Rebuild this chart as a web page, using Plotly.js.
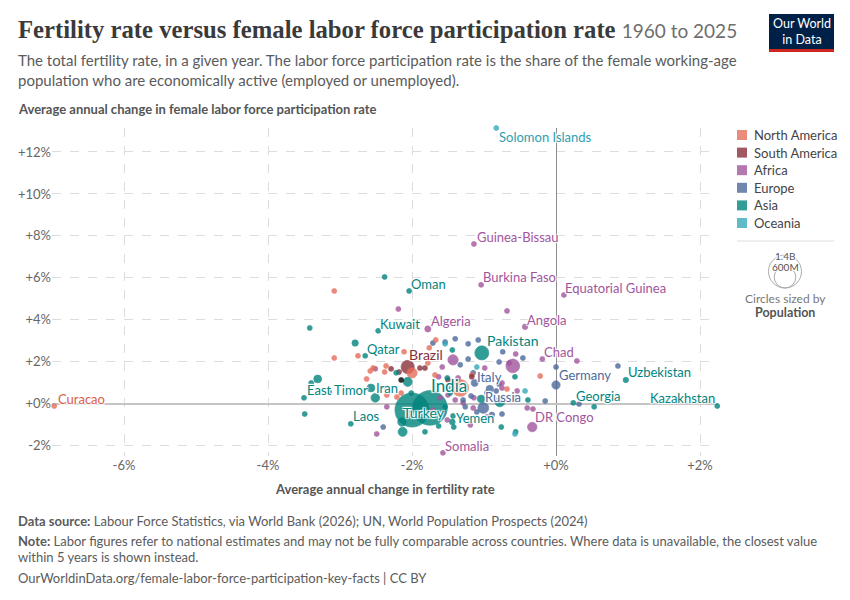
<!DOCTYPE html>
<html>
<head>
<meta charset="utf-8">
<script src="https://cdn.plot.ly/plotly-3.0.1.min.js"></script>
<style>
  body { margin: 0; background: #fff; }
  #chart { width: 850px; height: 600px; }
</style>
</head>
<body>
<div id="chart"></div>
<script>
// Average annual change (%), fertility rate (x) and female labor force participation (y)
// region: NA North America, SA South America, AF Africa, EU Europe, AS Asia, OC Oceania
var region = [
  "NA","NA","NA","NA","NA","NA","NA","NA","NA","NA","NA","NA","NA","NA","NA","NA","NA","NA","NA","NA","NA","NA",
  "SA","SA","SA","SA","SA","SA","SA","SA",
  "AF","AF","AF","AF","AF","AF","AF","AF","AF","AF","AF","AF","AF","AF","AF","AF","AF","AF","AF","AF",
  "AF","AF","AF","AF","AF","AF","AF","AF","AF","AF","AF","AF","AF","AF","AF","AF","AF","AF",
  "EU","EU","EU","EU","EU","EU","EU","EU","EU","EU","EU","EU","EU","EU","EU","EU","EU",
  "EU","EU","EU","EU","EU","EU","EU","EU","EU","EU","EU","EU","EU","EU","EU",
  "AS","AS","AS","AS","AS","AS","AS","AS","AS","AS","AS","AS","AS","AS","AS","AS","AS","AS","AS","AS","AS","AS",
  "AS","AS","AS","AS","AS","AS","AS","AS","AS","AS","AS","AS","AS","AS","AS","AS","AS","AS","AS","AS","AS","AS",
  "OC","OC","OC","OC","OC"
];
var country = [
  "Curacao","","","","","","","","","","","","","","","","","","","","","",
  "Brazil","","","","","","","",
  "Guinea-Bissau","Burkina Faso","Equatorial Guinea","","","Algeria","Angola","","Chad","","","","","","","","","","","",
  "","","DR Congo","Somalia","","","","","","","","","","","","","","",
  "Germany","Italy","Russia","","","","","","","","","","","","","","",
  "","","","","","","","","","","","","","","","",
  "Oman","Kuwait","Qatar","Pakistan","Uzbekistan","India","","Turkey","Yemen","Georgia","Kazakhstan","East Timor","Iran","Laos","","","","","","","","",
  "","","","","","","","","","","","","","","","","","","","","","",
  "Solomon Islands","","","",""
];
var fertChange = [
  -6.97,-3.08,-2.75,-3.08,-2.58,-2.36,-2.38,-2.63,-2.21,-2.00,-2.11,-1.67,-1.78,-1.68,-1.33,-1.17,-0.68,-0.22,-2.15,-2.35,-2.54,-1.76,
  -2.06,-2.29,-1.82,-2.18,-1.17,-1.89,-1.74,-1.50,
  -1.14,-1.04,0.11,-2.19,-0.68,-1.78,-0.43,-0.56,-0.19,0.29,-2.51,-1.43,-0.60,-1.58,-0.75,-0.54,-1.50,-1.40,-1.14,-0.75,
  -0.40,-0.32,-0.33,-1.57,-2.35,-2.49,-1.15,-1.71,-0.96,-1.19,-1.63,-1.36,-0.99,-2.35,-1.61,-1.29,-1.51,-0.65,
  0.00,-1.13,-1.01,-1.22,-1.08,-0.74,-1.33,-1.22,-0.79,0.00,0.86,-0.92,-0.79,-1.15,-1.29,-0.96,-0.83,
  -1.18,-0.15,0.32,-0.75,-1.26,-1.57,-0.89,-1.10,-2.40,-1.71,-1.40,-1.54,-0.46,-0.96,-1.31,-1.04,
  -2.04,-2.47,-2.65,-1.03,0.97,-1.75,-2.00,-2.14,-1.44,0.24,2.24,-3.50,-2.51,-2.85,-2.38,-3.42,-2.79,-3.31,-3.40,-3.15,-2.57,-3.49,
  -2.06,-0.78,-1.46,-1.44,-1.51,-1.47,-1.54,-1.43,-1.24,-1.42,-1.63,-1.82,-2.13,-0.76,-0.56,-0.39,-0.57,0.53,-0.57,-2.22,-2.01,-1.10,
  -0.83,-1.54,-0.43,-0.57,-2.15
];
var lfpChange = [
  -0.10,5.38,2.29,2.19,1.57,1.81,1.52,1.19,0.33,1.48,2.48,3.05,1.95,1.38,0.76,1.38,0.71,1.33,0.52,0.43,1.71,2.67,
  1.76,1.67,1.71,1.52,1.29,1.71,2.24,1.14,
  7.62,5.67,5.19,4.52,4.43,3.57,3.67,2.38,2.14,2.05,1.67,2.10,1.81,1.76,1.00,0.62,0.43,0.19,0.29,0.76,
  -0.19,-0.24,-1.10,-2.33,-0.14,-1.43,-0.19,-0.29,-0.62,-1.00,1.29,1.24,1.71,0.76,0.29,0.05,-0.76,1.95,
  0.90,1.00,-0.19,2.86,3.05,2.48,1.86,2.14,2.00,1.76,1.81,0.71,0.95,1.48,0.19,0.52,0.62,
  0.38,0.14,0.00,-0.48,-0.14,-0.43,-0.52,-0.38,-1.10,2.90,3.10,2.95,2.19,1.14,-0.62,0.24,
  5.38,3.48,2.29,2.43,1.14,-0.19,-0.29,-0.86,-0.86,0.05,-0.10,0.29,0.29,-0.95,6.05,3.62,2.90,1.19,1.00,0.57,0.76,-0.48,
  1.05,0.10,0.76,2.57,1.24,0.52,-0.14,-0.57,-0.67,-1.10,-1.05,-1.33,-1.33,-1.10,-1.33,0.19,1.29,-0.14,0.29,1.48,0.52,1.76,
  13.14,2.86,0.62,-1.43,1.14
];
// population, millions
var population = [
  0.15,0.3,0.5,0.3,0.4,1,1,0.5,1,130,2,1,2,2,340,5,1,1,3,1,0.5,1,
  212,20,3,30,3,18,8,7,
  2,23,2,2,3,47,37,5,19,3,1,130,230,5,5,5,5,5,5,5,
  3,3,110,19,3,2,5,5,5,3,5,5,5,3,3,5,3,3,
  84,59,144,2,2,2,5,3,3,2,3,66,10,10,5,10,10,
  5,3,3,5,5,5,38,10,3,2,2,2,2,10,5,69,
  5,4.5,3,240,36,1450,1410,87,40,3.7,20,1.4,90,7.6,4,2,50,75,2,2,75,3,
  100,120,5,3,5,5,5,5,5,5,5,10,100,5,3,5,3,3,5,3,3,3,
  0.8,1,1,1,1
];

var regionKeys = ["NA","SA","AF","EU","AS","OC"];
var regionNames = ["North America","South America","Africa","Europe","Asia","Oceania"];
var regionColors = ["#E56E5A","#883039","#A2559C","#4C6A9C","#00847E","#38AABA"];
var labelColors = ["#DB5D48","#883039","#A2559C","#4C6A9C","#00847E","#2F9EAE"];

var xTicks = [-6,-4,-2,0,2];
var xTickText = ["-6%","-4%","-2%","+0%","+2%"];
var yTicks = [-2,0,2,4,6,8,10,12];
var yTickText = ["-2%","+0%","+2%","+4%","+6%","+8%","+10%","+12%"];

// label offsets in px: [xshift, yshift, anchor, fontsize]
var labelPos = {
  "Solomon Islands":[1,-9], "Guinea-Bissau":[1,7], "Burkina Faso":[0,8],
  "Equatorial Guinea":[-1,7], "Oman":[0,7], "Kuwait":[0,7], "Algeria":[1,8],
  "Angola":[0,7], "Pakistan":[3,12,"left",14], "Chad":[0,7], "Qatar":[0,7],
  "Brazil":[-1,12,"left",14], "Uzbekistan":[0,8], "Germany":[1,10], "Italy":[0,6],
  "India":[-1,22,"left",17], "Turkey":[-1,9,"left",14], "Russia":[0,11], "Yemen":[2,4],
  "Somalia":[0,7], "DR Congo":[1,10], "Georgia":[1,7], "Kazakhstan":[0,8,"right"],
  "East Timor":[1,8], "Iran":[-1,10], "Laos":[0,8], "Curacao":[2,7]
};

// plot box in px, used for the paper-positioned decorations
var L = 52, R = 718, T = 128, B = 456;
function px(v) { return (v - L) / (R - L); }
function py(v) { return (B - v) / (B - T); }

var halo = "1px 1px 1px #fff, -1px -1px 1px #fff, 1px -1px 1px #fff, -1px 1px 1px #fff, 0 0 2px #fff";

// draw biggest circles first so small ones sit on top
var order = population.map(function(p, i) { return i; });
order.sort(function(a, b) { return population[b] - population[a]; });

var colorOf = function(i) { return regionColors[regionKeys.indexOf(region[i])]; };

var trace = {
  type: "scatter",
  mode: "markers",
  x: order.map(function(i) { return fertChange[i]; }),
  y: order.map(function(i) { return lfpChange[i]; }),
  text: order.map(function(i) { return country[i]; }),
  hoverinfo: "text",
  cliponaxis: false,
  marker: {
    sizemode: "diameter",
    size: order.map(function(i) { return Math.max(5, 34 * Math.sqrt(population[i] / 1400)); }),
    color: order.map(colorOf),
    opacity: 0.8,
    line: { width: 0.7, color: order.map(colorOf) }
  },
  showlegend: false
};

var annotations = [];
var shapes = [];

// point labels
for (var i = 0; i < country.length; i++) {
  var p = labelPos[country[i]];
  if (!p) continue;
  annotations.push({
    x: fertChange[i], y: lfpChange[i], xref: "x", yref: "y",
    text: country[i], showarrow: false,
    xanchor: p[2] || "left", yanchor: "middle",
    xshift: p[0], yshift: p[1],
    font: { family: "Lato", size: p[3] || 13, color: labelColors[regionKeys.indexOf(region[i])], shadow: halo }
  });
}

// header
annotations.push({
  xref: "paper", yref: "paper", x: px(16), y: py(30), xanchor: "left", yanchor: "middle", showarrow: false,
  text: "<b>Fertility rate versus female labor force participation rate</b> <span style=\"font-family:Lato;font-size:19px;color:#6e6e6e\">1960 to 2025</span>",
  font: { family: "Liberation Serif", size: 24.7, color: "#3a3a3a" }
});
annotations.push({
  xref: "paper", yref: "paper", x: px(16), y: py(70), xanchor: "left", yanchor: "middle", showarrow: false, align: "left",
  text: "The total fertility rate, in a given year. The labor force participation rate is the share of the female working-age<br>population who are economically active (employed or unemployed).",
  font: { family: "Lato", size: 15, color: "#5b5b5b" }
});
annotations.push({
  xref: "paper", yref: "paper", x: px(16), y: py(109), xanchor: "left", yanchor: "middle", showarrow: false,
  text: "<b>Average annual change in female labor force participation rate</b>",
  font: { family: "Lato", size: 13, color: "#555" }
});
annotations.push({
  xref: "paper", yref: "paper", x: px(385), y: py(489), xanchor: "center", yanchor: "middle", showarrow: false,
  text: "<b>Average annual change in fertility rate</b>",
  font: { family: "Lato", size: 13, color: "#555" }
});

// footer
var footer = [
  [521, "<b>Data source:</b> Labour Force Statistics, via World Bank (2026); UN, World Population Prospects (2024)"],
  [541, "<b>Note:</b> Labor figures refer to national estimates and may not be fully comparable across countries. Where data is unavailable, the closest value"],
  [557, "within 5 years is shown instead."],
  [578, "OurWorldinData.org/female-labor-force-participation-key-facts | CC BY"]
];
footer.forEach(function(f) {
  annotations.push({
    xref: "paper", yref: "paper", x: px(16), y: py(f[0]), xanchor: "left", yanchor: "middle", showarrow: false,
    text: f[1], font: { family: "Lato", size: 13, color: "#5b5b5b" }
  });
});

// logo
shapes.push({ type: "rect", xref: "paper", yref: "paper", x0: px(769), x1: px(834), y0: py(14), y1: py(49), fillcolor: "#002147", line: { width: 0 } });
shapes.push({ type: "rect", xref: "paper", yref: "paper", x0: px(769), x1: px(834), y0: py(49), y1: py(52), fillcolor: "#CE261E", line: { width: 0 } });
annotations.push({
  xref: "paper", yref: "paper", x: px(801.5), y: py(32), xanchor: "center", yanchor: "middle", showarrow: false,
  text: "Our World<br>in Data", font: { family: "Lato", size: 12.5, color: "#fff" }
});

// color legend
regionNames.forEach(function(name, k) {
  var cy = 135 + k * 17.6;
  shapes.push({ type: "rect", xref: "paper", yref: "paper", x0: px(737), x1: px(747), y0: py(cy - 5), y1: py(cy + 5),
    fillcolor: regionColors[k], opacity: 0.8, line: { width: 0 } });
  annotations.push({
    xref: "paper", yref: "paper", x: px(752), y: py(cy), xanchor: "left", yanchor: "middle", showarrow: false,
    text: name, font: { family: "Lato", size: 13, color: "#444" }
  });
});
shapes.push({ type: "line", xref: "paper", yref: "paper", x0: px(737), x1: px(834), y0: py(241), y1: py(241), line: { color: "#ddd", width: 1 } });

// size legend
[[1400, "1.4B"], [600, "600M"]].forEach(function(s) {
  var r = 16.5 * Math.sqrt(s[0] / 1400);
  shapes.push({ type: "circle", xref: "paper", yref: "paper", x0: px(785 - r), x1: px(785 + r), y0: py(288 - 2 * r), y1: py(288),
    line: { color: "#aaa", width: 1 }, fillcolor: "rgba(0,0,0,0)" });
  annotations.push({
    xref: "paper", yref: "paper", x: px(785), y: py(288 - 2 * r + 1), xanchor: "center", yanchor: "middle", showarrow: false,
    text: s[1], font: { family: "Lato", size: 10, color: "#555", shadow: halo }
  });
});
annotations.push({
  xref: "paper", yref: "paper", x: px(785), y: py(298), xanchor: "center", yanchor: "middle", showarrow: false,
  text: "Circles sized by", font: { family: "Lato", size: 12, color: "#777" }
});
annotations.push({
  xref: "paper", yref: "paper", x: px(785), y: py(312), xanchor: "center", yanchor: "middle", showarrow: false,
  text: "<b>Population</b>", font: { family: "Lato", size: 12.5, color: "#555" }
});

var layout = {
  width: 850, height: 600,
  margin: { l: L, r: 850 - R, t: T, b: 600 - B },
  paper_bgcolor: "#fff", plot_bgcolor: "#fff",
  font: { family: "Lato", color: "#666" },
  xaxis: {
    range: [-7.0, 2.25], tickvals: xTicks, ticktext: xTickText, ticks: "",
    showgrid: true, gridcolor: "#dcdcdc", griddash: "dash", gridwidth: 1,
    zeroline: true, zerolinecolor: "#8c8c8c", zerolinewidth: 1,
    showline: false, tickfont: { family: "Lato", size: 13, color: "#666" }
  },
  yaxis: {
    range: [-2.48, 13.14], tickvals: yTicks, ticktext: yTickText, ticks: "",
    showgrid: true, gridcolor: "#dcdcdc", griddash: "dash", gridwidth: 1,
    zeroline: true, zerolinecolor: "#c4c4c4", zerolinewidth: 2,
    showline: false, tickfont: { family: "Lato", size: 13, color: "#666" }
  },
  shapes: shapes,
  annotations: annotations,
  showlegend: false,
  hovermode: "closest"
};

Plotly.newPlot("chart", [trace], layout, { displayModeBar: false, staticPlot: true });
</script>
</body>
</html>
